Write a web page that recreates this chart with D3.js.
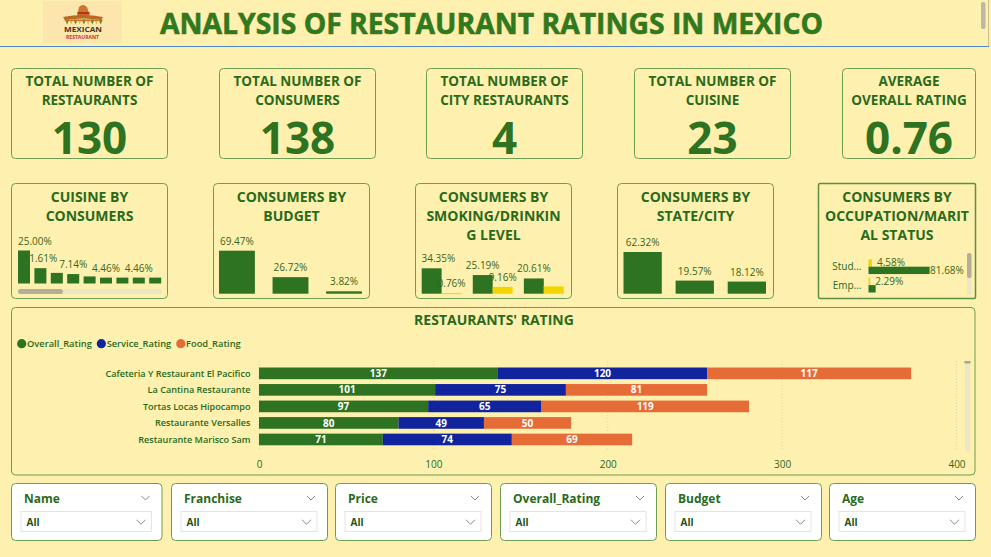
<!DOCTYPE html>
<html><head><meta charset="utf-8">
<script src="https://cdn.jsdelivr.net/npm/d3@7"></script>
<style>
html,body{margin:0;padding:0;background:#FEF0AE;overflow:hidden}
svg{display:block}
text{font-family:"Open Sans","Noto Sans",sans-serif}
</style></head><body>
<script>
// ---------------- DATA ----------------
const pageTitle = "ANALYSIS OF RESTAURANT RATINGS IN MEXICO";
const kpiTitles = [["TOTAL NUMBER OF","RESTAURANTS"],["TOTAL NUMBER OF","CONSUMERS"],["TOTAL NUMBER OF","CITY RESTAURANTS"],["TOTAL NUMBER OF","CUISINE"],["AVERAGE","OVERALL RATING"]];
const kpiValues = ["130","138","4","23","0.76"];

const smallTitles = [["CUISINE BY","CONSUMERS"],["CONSUMERS BY","BUDGET"],["CONSUMERS BY","SMOKING/DRINKIN","G LEVEL"],["CONSUMERS BY","STATE/CITY"],["CONSUMERS BY","OCCUPATION/MARIT","AL STATUS"]];
const cuisineIdx = [1,2,3,4,5,6,7,8,9];
const cuisineShare = [25.00, 11.61, 8.04, 7.14, 5.36, 4.46, 4.46, 4.46, 4.46];
const budgetCats = ["Medium","Low","High"];
const budgetShare = [69.47, 26.72, 3.82];
const drinkLevels = ["Abstemious","Casual Drinker","Social Drinker"];
const smokerNo = [34.35, 25.19, 20.61];
const smokerYes = [0.76, 9.16, 9.93];
const stateCats = ["San Luis Potosi","Tamaulipas","Morelos"];
const stateShare = [62.32, 19.57, 18.12];
const occupationCats = ["Stud...","Emp..."];
const occMarried = [4.58, 2.29];
const occSingle = [81.68, 9.54];

const chartTitle = "RESTAURANTS' RATING";
const ratingSeries = ["Overall_Rating","Service_Rating","Food_Rating"];
const restaurants = ["Cafeteria Y Restaurant El Pacifico","La Cantina Restaurante","Tortas Locas Hipocampo","Restaurante Versalles","Restaurante Marisco Sam"];
const overallRating = [137,101,97,80,71];
const serviceRating = [120,75,65,49,74];
const foodRating = [117,81,119,50,69];
const ratingTicks = [0,100,200,300,400];

const slicerNames = ["Name","Franchise","Price","Overall_Rating","Budget","Age"];
const slicerValue = "All";

// ---------------- STYLE ----------------
const BG="#FEF0AE", GREEN="#2D7321", TXT="#2A6A1C", BORDER="#6E9C50", YEL="#F2D400";
const BLUE="#12239E", ORANGE="#E66C37", LBL="#3A6620";

const svg=d3.select("body").append("svg").attr("width",991).attr("height",557);
svg.append("rect").attr("width",991).attr("height",557).attr("fill",BG);

// header
svg.append("line").attr("x1",0).attr("x2",989).attr("y1",46.5).attr("y2",46.5).attr("stroke","#4F87C4").attr("stroke-width",1.2);
svg.append("line").attr("x1",988.5).attr("x2",988.5).attr("y1",0).attr("y2",46).attr("stroke","#C9C08A").attr("stroke-width",1);
svg.append("rect").attr("x",981).attr("y",2).attr("width",4.5).attr("height",27).attr("rx",2).attr("fill","#BDB7A5");

// logo
const logo=svg.append("g");
logo.append("rect").attr("x",43).attr("y",1).attr("width",79).attr("height",42).attr("fill","#FDE6AE");
logo.append("path").attr("d","M77,16 L79,7 Q83,3 87,7 L90,16 Z").attr("fill","#C8782C");
logo.append("rect").attr("x",77.5).attr("y",12).attr("width",12).attr("height",2.2).attr("fill","#B8321E");
logo.append("path").attr("d","M63,17 Q83,13 103,17 L101,20 Q83,17 65,20 Z").attr("fill","#B86A24");
const zig=[];for(let i=0;i<9;i++){zig.push(i);}
logo.selectAll("path.z").data(zig).join("path").attr("class","z")
 .attr("d",i=>{const x=65+i*4.2;return `M${x},19.5 L${x+2.1},24.5 L${x+4.2},19.5 Z`;})
 .attr("fill",i=>i%2?"#E8B62A":"#4E8E2A");
logo.append("path").attr("d","M64,19.5 L102,19.5 L101,21 L65,21 Z").attr("fill","#C57A2A");
logo.append("text").attr("x",83).attr("y",32).attr("text-anchor","middle").attr("font-size",7.5).attr("font-weight",700)
 .attr("font-family","DejaVu Sans Condensed, sans-serif").attr("fill","#4A3418").attr("textLength",38).attr("lengthAdjust","spacingAndGlyphs").text("MEXICAN");
logo.append("text").attr("x",82.5).attr("y",38.5).attr("text-anchor","middle").attr("font-size",4.5).attr("font-weight",700)
 .attr("font-family","DejaVu Sans Condensed, sans-serif").attr("fill","#C0392B").attr("textLength",33).attr("lengthAdjust","spacingAndGlyphs").text("RESTAURANT");

// title
svg.append("text").attr("x",160).attr("y",33.5).attr("font-size",29).attr("font-weight",700)
 .attr("font-family","DejaVu Sans Condensed, DejaVu Sans, sans-serif")
 .attr("textLength",663).attr("lengthAdjust","spacingAndGlyphs")
 .attr("fill","#2E7A1F").attr("stroke","#6B6A1A").attr("stroke-width",0.6).attr("paint-order","stroke").text(pageTitle);

function card(x,y,w,h,opts={}){
  return svg.append("rect").attr("x",x).attr("y",y).attr("width",w).attr("height",h).attr("rx",opts.rx??4)
   .attr("fill",opts.fill||"none").attr("stroke",opts.stroke||BORDER).attr("stroke-width",opts.sw||1);
}

// KPI cards
const kpiX=[11.5,219.5,426.5,634.5,842.5], kpiW=[156,156,156,156,133];
kpiValues.forEach((v,i)=>{
  card(kpiX[i],68.5,kpiW[i],90);
  const cx=kpiX[i]+kpiW[i]/2;
  kpiTitles[i].forEach((t,j)=>svg.append("text").attr("x",cx).attr("y",85.5+j*19).attr("text-anchor","middle")
    .attr("font-size",13.5).attr("font-weight",700).attr("fill",TXT).text(t));
  svg.append("text").attr("x",cx).attr("y",154).attr("text-anchor","middle").attr("font-size",44).attr("font-weight",700).attr("fill",GREEN).text(v);
});

// small cards
const scX=[11.5,213.5,415.5,617.5,818.5], scW=[156,156,156,156,157];
smallTitles.forEach((lines,i)=>{
  if(i===4) card(scX[i],183.5,scW[i],115,{rx:1.5,sw:1.5,stroke:"#5E8F40"}); else card(scX[i],183.5,scW[i],115);
  const cx=scX[i]+scW[i]/2;
  lines.forEach((t,j)=>svg.append("text").attr("x",cx).attr("y",201.5+j*19.2).attr("text-anchor","middle")
    .attr("font-size",14).attr("font-weight",700).attr("fill",TXT).text(t));
});

// greedy label placement (Power BI hides overlapping labels)
function overlap(a,b){return !(a.x+a.width<=b.x||b.x+b.width<=a.x||a.y+a.height<=b.y||b.y+b.height<=a.y);}
function placeLabels(g,items,minX,anchor="middle"){
  const placed=[];
  items.forEach(it=>{
    const t=g.append("text").attr("x",it.x).attr("y",it.y).attr("text-anchor",anchor)
      .attr("font-size",10).attr("fill",LBL).text(it.text);
    let b=t.node().getBBox();
    if(minX!=null && b.x<minX){t.attr("x",it.x+(minX-b.x)); b=t.node().getBBox();}
    const bb={x:b.x+1,y:b.y+2,width:b.width-2,height:b.height-4};
    if(placed.some(p=>overlap(p,bb))) t.remove(); else placed.push(bb);
  });
}
const pct=d=>d.toFixed(2)+"%";

// Cuisine by consumers
{
  const g=svg.append("g");
  const x=d3.scaleBand().domain(cuisineIdx).range([18,161.2]).paddingInner(0.268);
  const y=d3.scaleLinear().domain([0,25]).range([283.5,250.5]);
  g.selectAll("rect").data(cuisineShare).join("rect").attr("x",(d,i)=>x(cuisineIdx[i])).attr("width",x.bandwidth())
    .attr("y",d=>y(d)).attr("height",d=>y(0)-y(d)).attr("fill",GREEN);
  placeLabels(g,cuisineShare.map((d,i)=>({x:x(cuisineIdx[i])+x.bandwidth()/2,y:y(d)-6,text:pct(d)})),18);
  g.append("rect").attr("x",18).attr("y",289).attr("width",144).attr("height",5).attr("rx",2.5).attr("fill","#EDE6C6");
  g.append("rect").attr("x",18).attr("y",289).attr("width",45).attr("height",5).attr("rx",2.5).attr("fill","#B5AE96");
}
// Budget
{
  const g=svg.append("g");
  const x=d3.scaleBand().domain(budgetCats).range([219,362]).paddingInner(0.33);
  const y=d3.scaleLinear().domain([0,69.47]).range([293.7,250.7]);
  g.selectAll("rect").data(budgetShare).join("rect").attr("x",(d,i)=>x(budgetCats[i])).attr("width",x.bandwidth())
    .attr("y",d=>y(d)).attr("height",d=>y(0)-y(d)).attr("fill",GREEN);
  placeLabels(g,budgetShare.map((d,i)=>({x:x(budgetCats[i])+x.bandwidth()/2,y:y(d)-6,text:pct(d)})));
}
// Smoking / drinking
{
  const g=svg.append("g");
  const x=d3.scaleBand().domain(drinkLevels).range([421.7,563.7]).paddingInner(0.22);
  const xs=d3.scaleBand().domain(["no","yes"]).range([0,x.bandwidth()]);
  const y=d3.scaleLinear().domain([0,34.35]).range([293.7,268.3]);
  const items=[];
  drinkLevels.forEach((c,i)=>{
    [["no",smokerNo[i],GREEN],["yes",smokerYes[i],YEL]].forEach(([k,v,col])=>{
      g.append("rect").attr("x",x(c)+xs(k)).attr("width",xs.bandwidth()).attr("y",y(v)).attr("height",Math.max(1,y(0)-y(v))).attr("fill",col);
      items.push({x:x(c)+xs(k)+xs.bandwidth()/2,y:Math.min(y(v),y(0)-1)-6,text:pct(v)});
    });
  });
  placeLabels(g,items,421.5);
}
// State / city
{
  const g=svg.append("g");
  const x=d3.scaleBand().domain(stateCats).range([623.5,766]).paddingInner(0.265);
  const y=d3.scaleLinear().domain([0,62.32]).range([293.7,252]);
  g.selectAll("rect").data(stateShare).join("rect").attr("x",(d,i)=>x(stateCats[i])).attr("width",x.bandwidth())
    .attr("y",d=>y(d)).attr("height",d=>y(0)-y(d)).attr("fill",GREEN);
  placeLabels(g,stateShare.map((d,i)=>({x:x(stateCats[i])+x.bandwidth()/2,y:y(d)-6,text:pct(d)})));
}
// Occupation / marital
{
  const g=svg.append("g");
  const y=d3.scaleBand().domain(occupationCats).range([259.3,292.5]).paddingInner(0.2);
  const ys=d3.scaleBand().domain(["m","s"]).range([0,y.bandwidth()]);
  const x=d3.scaleLinear().domain([0,81.68]).range([868.5,929.6]);
  const items=[];
  occupationCats.forEach((c,i)=>{
    g.append("text").attr("x",861.5).attr("y",y(c)+y.bandwidth()/2+3.5).attr("text-anchor","end").attr("font-size",10).attr("fill",TXT).text(c);
    [["m",occMarried[i],YEL],["s",occSingle[i],GREEN]].forEach(([k,v,col])=>{
      g.append("rect").attr("x",x(0)).attr("y",y(c)+ys(k)).attr("width",x(v)-x(0)).attr("height",ys.bandwidth()).attr("fill",col);
      items.push({x:x(v)+(k==="m"?5:0.5),y:y(c)+ys(k)+ys.bandwidth()/2+3.5,text:pct(v)});
    });
  });
  placeLabels(g,items,null,"start");
  g.append("rect").attr("x",967).attr("y",253).attr("width",4.5).attr("height",42).attr("rx",2).attr("fill","#EDE6C6");
  g.append("rect").attr("x",967).attr("y",253).attr("width",4.5).attr("height",25).attr("rx",2).attr("fill","#B5AE96");
}

// Restaurants' rating
{
  card(11.5,307.5,963.5,167.5);
  const g=svg.append("g");
  g.append("text").attr("x",494).attr("y",325).attr("text-anchor","middle").attr("font-size",14).attr("font-weight",700).attr("fill",TXT).text(chartTitle);
  const colors=[GREEN,BLUE,ORANGE];
  // legend
  let lx=21.7;
  ratingSeries.forEach((s,i)=>{
    g.append("circle").attr("cx",lx).attr("cy",343.7).attr("r",4.6).attr("fill",colors[i]);
    const t=g.append("text").attr("x",lx+5.3).attr("y",347.3).attr("font-size",9.3).attr("font-weight",600).attr("fill",TXT).text(s);
    lx+=5.3+t.node().getComputedTextLength()+9.5;
  });
  const x=d3.scaleLinear().domain([0,400]).range([259,956.5]);
  const y=d3.scaleBand().domain(restaurants).range([365.2,447.6]).paddingInner(0.295).paddingOuter(0.14);
  // grid
  g.selectAll("line.grid").data(ratingTicks).join("line").attr("class","grid")
    .attr("x1",d=>x(d)).attr("x2",d=>x(d)).attr("y1",361).attr("y2",450)
    .attr("stroke","#DCD4A8").attr("stroke-dasharray","1,2").attr("stroke-width",1);
  const rows=restaurants.map((n,i)=>({name:n,vals:[overallRating[i],serviceRating[i],foodRating[i]]}));
  const stack=d3.stack().keys([0,1,2]).value((d,k)=>d.vals[k])(rows);
  stack.forEach((layer,k)=>{
    layer.forEach((seg,i)=>{
      const n=rows[i].name;
      g.append("rect").attr("x",x(seg[0])).attr("width",x(seg[1])-x(seg[0])).attr("y",y(n)).attr("height",y.bandwidth()).attr("fill",colors[k]);
      g.append("text").attr("x",(x(seg[0])+x(seg[1]))/2).attr("y",y(n)+y.bandwidth()/2+3.6).attr("text-anchor","middle")
        .attr("font-size",10).attr("font-weight",700).attr("fill","#FFFFFF").text(rows[i].vals[k]);
    });
  });
  // category labels
  restaurants.forEach(n=>g.append("text").attr("x",250.5).attr("y",y(n)+y.bandwidth()/2+3.4).attr("text-anchor","end")
    .attr("font-size",9.1).attr("font-weight",600).attr("fill",TXT).text(n));
  // x axis
  const ax=g.append("g").attr("transform","translate(0,453)").call(d3.axisBottom(x).tickValues(ratingTicks).tickSize(0).tickPadding(8));
  ax.select(".domain").remove();
  ax.selectAll("text").attr("font-size",10).attr("fill",TXT).attr("font-family","Open Sans, sans-serif");
  // scrollbar
  g.append("rect").attr("x",965).attr("y",362).attr("width",5).attr("height",90).attr("rx",2.5).attr("fill","#EDE6C6");
  g.append("rect").attr("x",964.5).attr("y",361).attr("width",6).attr("height",2.5).attr("fill","#A9A392");
}

// slicers
{
  const sx=[11.5,171.5,335.5,500.5,665.5,829.5], sw=[150.5,156,156,156,156,146];
  const chev=(g,cx,cy,w,col)=>g.append("path").attr("d",`M${cx-w/2},${cy-w/4} L${cx},${cy+w/4} L${cx+w/2},${cy-w/4}`).attr("fill","none").attr("stroke",col).attr("stroke-width",1);
  slicerNames.forEach((n,i)=>{
    const g=svg.append("g");
    g.append("rect").attr("x",sx[i]).attr("y",483.5).attr("width",sw[i]).attr("height",57).attr("rx",4).attr("fill","#FFFFFF").attr("stroke",BORDER).attr("stroke-width",1);
    g.append("text").attr("x",sx[i]+12.5).attr("y",502.5).attr("font-size",12).attr("font-weight",700).attr("fill",TXT).text(n);
    chev(g,sx[i]+sw[i]-16.5,498,8,"#8A8A8A");
    g.append("rect").attr("x",sx[i]+9.5).attr("y",511.5).attr("width",sw[i]-20).attr("height",20).attr("fill","#FFFFFF").attr("stroke","#E4E4E4");
    g.append("text").attr("x",sx[i]+15).attr("y",525.5).attr("font-size",10).attr("font-weight",700).attr("fill","#1F5314").text(slicerValue);
    chev(g,sx[i]+sw[i]-21,522,9,"#8A8A8A");
  });
}
</script></body></html>
